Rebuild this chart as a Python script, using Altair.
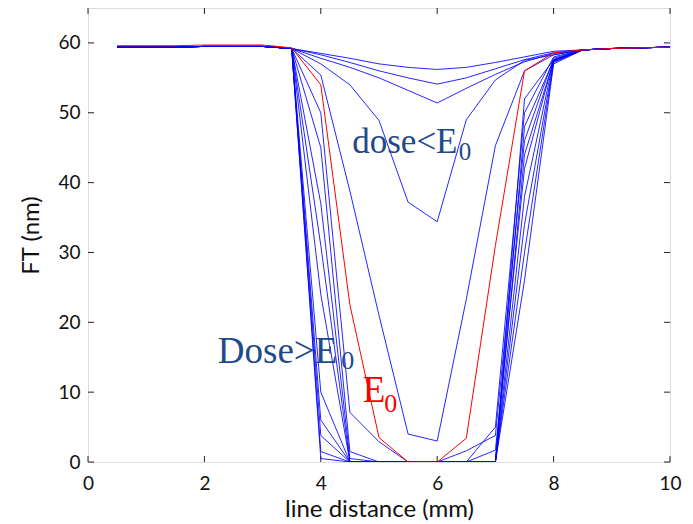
import altair as alt
import pandas as pd

# x positions of the samples (mm)
x_vals = [0.5, 1.0, 1.5, 2.0, 2.5, 3.0, 3.5, 4.0, 4.5, 5.0, 5.5, 6.0, 6.5, 7.0, 7.5, 8.0, 8.5, 9.0, 9.5, 10.0]

left_flat = [59.4, 59.4, 59.4, 59.5, 59.5, 59.5]
right_flat = [59.0, 59.2, 59.3, 59.4]

# values for x = 3.5 .. 8.0
blue_mid = {
    "A": [59.2, 58.5, 57.8, 57.0, 56.5, 56.2, 56.5, 57.2, 58.0, 58.8],
    "B": [59.2, 58.3, 57.2, 56.0, 55.0, 54.1, 55.0, 56.3, 57.6, 58.6],
    "C": [59.2, 57.8, 56.5, 55.0, 53.2, 51.4, 53.5, 55.5, 57.3, 58.5],
    "D": [59.2, 57.0, 54.0, 48.9, 37.2, 34.4, 49.0, 54.7, 57.5, 58.3],
    "E": [59.2, 55.4, 38.8, 21.0, 4.0, 3.0, 23.3, 45.3, 56.0, 58.3],
    "G": [59.2, 50.0, 7.1, 2.9, 0.0, 0.0, 0.0, 5.0, 50.0, 58.0],
    "H": [59.2, 45.0, 1.5, 0.0, 0.0, 0.0, 1.6, 3.8, 46.0, 57.8],
    "I": [59.2, 37.0, 0.5, 0.0, 0.0, 0.0, 0.0, 1.7, 42.0, 57.6],
    "J": [59.2, 31.0, 0.0, 0.0, 0.0, 0.0, 0.0, 0.0, 38.0, 57.5],
    "K": [59.2, 24.0, 0.0, 0.0, 0.0, 0.0, 0.0, 0.0, 34.0, 57.3],
    "S1": [59.2, 10.0, 0.0, 0.0, 0.0, 0.0, 0.0, 0.0, 48.0, 57.5],
    "S2": [59.2, 6.0, 0.0, 0.0, 0.0, 0.0, 0.0, 0.0, 44.0, 57.4],
    "S3": [59.2, 3.8, 0.0, 0.0, 0.0, 0.0, 0.0, 0.0, 30.0, 57.2],
    "S4": [59.2, 1.5, 0.0, 0.0, 0.0, 0.0, 0.0, 0.0, 26.0, 57.0],
    "S5": [59.2, 0.5, 0.0, 0.0, 0.0, 0.0, 0.0, 0.0, 52.0, 57.6],
}
red_left_flat = [59.6, 59.6, 59.6, 59.7, 59.7, 59.7]
red_mid = [59.3, 54.0, 22.5, 3.5, 0.0, 0.0, 3.4, 31.0, 56.0, 58.6]

x_ticks = [0, 2, 4, 6, 8, 10]
y_ticks = [0, 10, 20, 30, 40, 50, 60]

# annotations: text, x, y, size, colour
ann_text = ["dose<E", "0", "Dose>E", "0", "E", "0"]
ann_x = [4.54, 6.37, 2.23, 4.35, 4.72, 5.09]
ann_y = [44.3, 43.2, 14.2, 13.3, 8.56, 7.1]
ann_size = [35, 25, 37, 26, 37, 26]
ann_color = ["#1f4a8a", "#1f4a8a", "#1f4a8a", "#1f4a8a", "#ff0000", "#ff0000"]

rows = []
for name, mid in blue_mid.items():
    vals = left_flat + mid + right_flat
    for x, y in zip(x_vals, vals):
        rows.append({"series": name, "x": x, "y": y})
blue_df = pd.DataFrame(rows)
red_vals = red_left_flat + red_mid + right_flat
red_df = pd.DataFrame({"x": x_vals, "y": red_vals})
ann_df = pd.DataFrame({"t": ann_text, "x": ann_x, "y": ann_y, "s": ann_size, "c": ann_color})

W, H = 582, 454
xs = alt.Scale(domain=[0, 10], nice=False, zero=False)
ys = alt.Scale(domain=[0, 65], nice=False, zero=False)

axis_font = "Lato"
x_axis = alt.Axis(values=x_ticks, format="d", labelFlush=False, tickSize=0, domain=False, grid=False,
                  labelFont=axis_font, labelFontSize=19, labelColor="#111", labelPadding=12,
                  title="line distance (mm)", titleFont=axis_font, titleFontSize=24,
                  titleFontWeight="normal", titleColor="#111", titlePadding=4)
y_axis = alt.Axis(values=y_ticks, format="d", labelFlush=False, tickSize=0, domain=False, grid=False,
                  labelFont=axis_font, labelFontSize=19, labelColor="#111", labelPadding=8,
                  title="FT (nm)", titleFont=axis_font, titleFontSize=24,
                  titleFontWeight="normal", titleColor="#111", titlePadding=14)

blue = alt.Chart(blue_df).mark_line(color="#0000ff", strokeWidth=1, opacity=0.85, clip=True).encode(
    x=alt.X("x:Q", scale=xs, axis=x_axis),
    y=alt.Y("y:Q", scale=ys, axis=y_axis),
    detail="series:N",
)
red = alt.Chart(red_df).mark_line(color="#ff0000", strokeWidth=1, clip=True).encode(
    x=alt.X("x:Q", scale=xs),
    y=alt.Y("y:Q", scale=ys),
)

xt = pd.DataFrame({"v": x_ticks})
yt = pd.DataFrame({"v": y_ticks})
tick_col = "#222"
xtick_b = alt.Chart(xt).mark_rule(color=tick_col).encode(
    x=alt.X("v:Q", scale=xs), y=alt.value(H), y2=alt.value(H - 6))
xtick_t = alt.Chart(xt).mark_rule(color=tick_col).encode(
    x=alt.X("v:Q", scale=xs), y=alt.value(0), y2=alt.value(6))
ytick_l = alt.Chart(yt).mark_rule(color=tick_col).encode(
    y=alt.Y("v:Q", scale=ys), x=alt.value(0), x2=alt.value(6))
ytick_r = alt.Chart(yt).mark_rule(color=tick_col).encode(
    y=alt.Y("v:Q", scale=ys), x=alt.value(W - 6), x2=alt.value(W))

ann = alt.Chart(ann_df).mark_text(font="Liberation Serif", align="left", baseline="alphabetic").encode(
    x=alt.X("x:Q", scale=xs),
    y=alt.Y("y:Q", scale=ys),
    text="t:N",
    size=alt.Size("s:Q", scale=None, legend=None),
    color=alt.Color("c:N", scale=None, legend=None),
)

chart = alt.layer(blue, red, xtick_b, xtick_t, ytick_l, ytick_r, ann).properties(
    width=W, height=H,
    autosize=alt.AutoSizeParams(type="none"),
    padding={"left": 80, "top": 0, "right": 15, "bottom": 62},
).configure_view(stroke="#222", strokeWidth=1).configure(background="white")

chart.save("out.html", embed_options={"renderer": "svg", "actions": False})
